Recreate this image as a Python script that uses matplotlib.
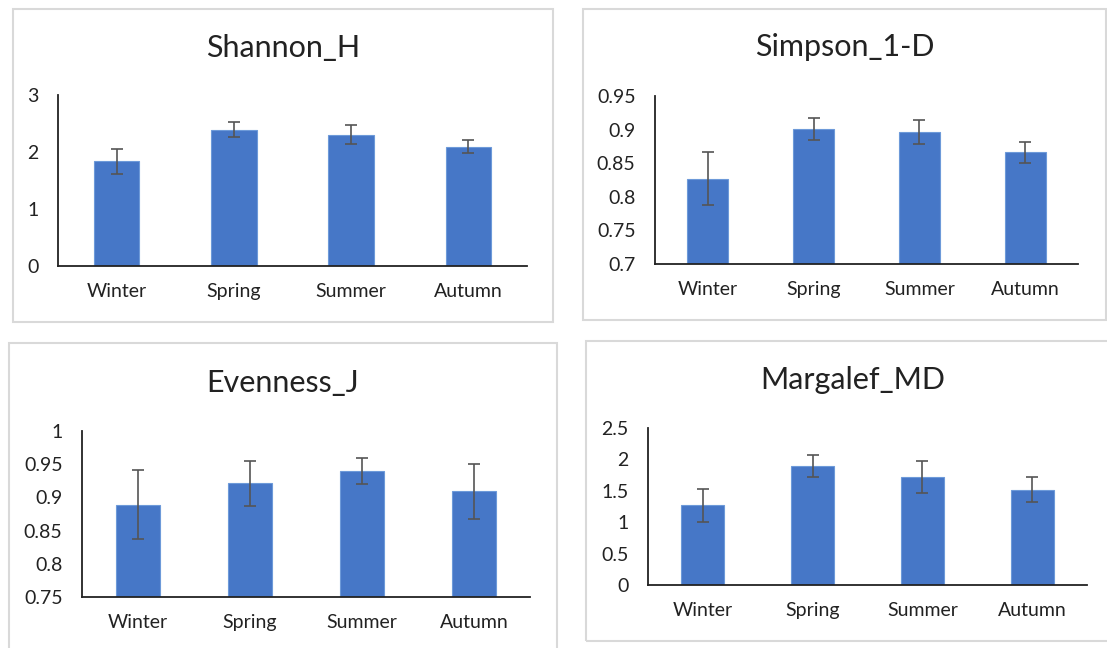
import matplotlib
matplotlib.use("Agg")
import matplotlib.pyplot as plt
from matplotlib.patches import Rectangle

plt.rcParams['font.family'] = ['Lato', 'DejaVu Sans']

seasons = ["Winter", "Spring", "Summer", "Autumn"]

shannon = [1.84, 2.39, 2.30, 2.09]
shannon_err = [0.22, 0.135, 0.165, 0.115]

simpson = [0.827, 0.901, 0.896, 0.866]
simpson_err = [0.039, 0.016, 0.018, 0.015]

evenness = [0.889, 0.921, 0.940, 0.909]
evenness_err = [0.052, 0.034, 0.020, 0.042]

margalef = [1.27, 1.888, 1.718, 1.516]
margalef_err = [0.26, 0.175, 0.26, 0.20]

W, H = 1107, 648
fig = plt.figure(figsize=(W / 100, H / 100), dpi=100)


def px_rect(x0, y0, x1, y1):
    # pixel box (top-left origin) -> figure fraction [l, b, w, h]
    return [x0 / W, 1 - y1 / H, (x1 - x0) / W, (y1 - y0) / H]


def panel(frame, axbox, title, title_y, vals, errs, ylim, ticks, ticklabels):
    fr = px_rect(*frame)
    fig.add_artist(Rectangle((fr[0], fr[1]), fr[2], fr[3], transform=fig.transFigure,
                             fill=False, edgecolor="#d9d9d9", linewidth=1.5))
    ax = fig.add_axes(px_rect(*axbox))
    ax.bar(range(len(seasons)), vals, width=0.39, color="#4677c7",
           edgecolor="#6d9ad9", linewidth=0.8, zorder=2)
    ax.errorbar(range(len(seasons)), vals, yerr=errs, fmt="none",
                ecolor="#555555", elinewidth=1.2, capsize=4.5, capthick=1.2, zorder=3)
    ax.set_xlim(-0.5, len(seasons) - 0.5)
    ax.set_ylim(*ylim)
    ax.set_yticks(ticks)
    ax.set_yticklabels(ticklabels)
    ax.set_xticks(range(len(seasons)))
    ax.set_xticklabels(seasons)
    for s in ["top", "right"]:
        ax.spines[s].set_visible(False)
    for s in ["left", "bottom"]:
        ax.spines[s].set_linewidth(1.3)
        ax.spines[s].set_color("#222222")
    ax.tick_params(axis="both", length=0, labelsize=14, colors="#222222")
    ax.tick_params(axis="y", pad=14)
    ax.tick_params(axis="x", pad=12)
    ax.patch.set_alpha(0)
    cx = (frame[0] + frame[2]) / 2 / W
    fig.text(cx, 1 - title_y / H, title, ha="center", va="center",
             fontsize=22, color="#222222")
    return ax


panel((13, 9, 553, 322), (58, 95, 527, 266), "Shannon_H", 48,
      shannon, shannon_err, (0, 3), [0, 1, 2, 3], ["0", "1", "2", "3"])
panel((583, 9, 1106, 320), (655, 96, 1078, 264), "Simpson_1-D", 47,
      simpson, simpson_err, (0.7, 0.95),
      [0.7, 0.75, 0.8, 0.85, 0.9, 0.95], ["0.7", "0.75", "0.8", "0.85", "0.9", "0.95"])
panel((9, 343, 557, 700), (82, 431, 530, 597), "Evenness_J", 383,
      evenness, evenness_err, (0.75, 1.0),
      [0.75, 0.8, 0.85, 0.9, 0.95, 1.0], ["0.75", "0.8", "0.85", "0.9", "0.95", "1"])
panel((586, 341, 1120, 641), (648, 428, 1087, 585), "Margalef_MD", 380,
      margalef, margalef_err, (0, 2.5),
      [0, 0.5, 1, 1.5, 2, 2.5], ["0", "0.5", "1", "1.5", "2", "2.5"])

fig.savefig("out.png", dpi=100)
